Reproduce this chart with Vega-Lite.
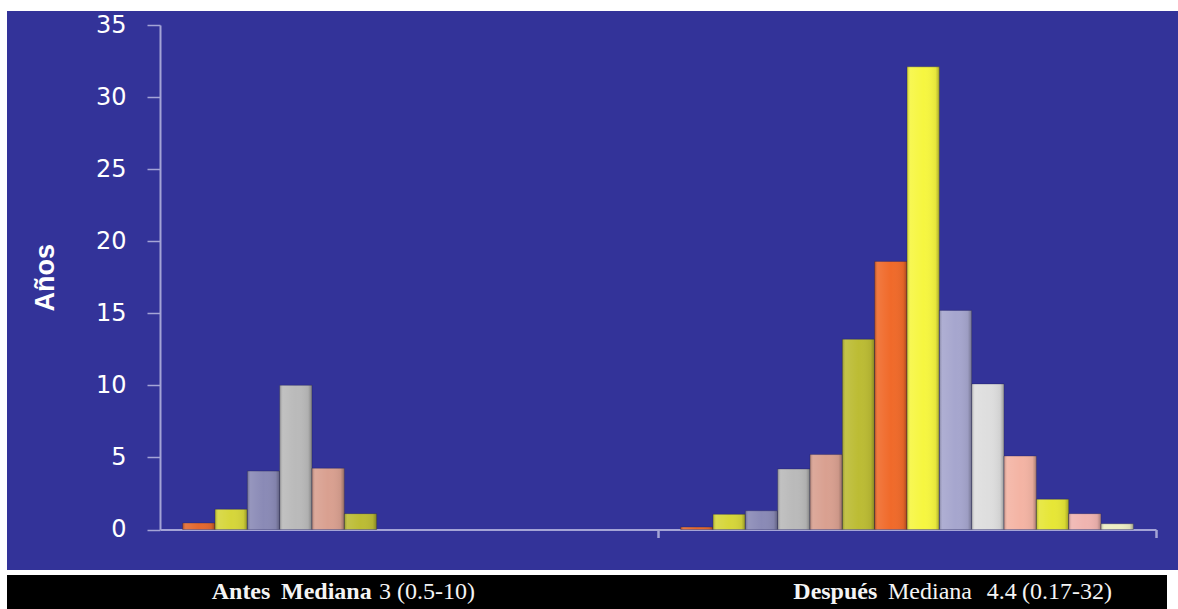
{
  "$schema": "https://vega.github.io/schema/vega-lite/v6.json",
  "background": "white",
  "padding": {"left": 7, "top": 11, "right": 0, "bottom": 0},
  "spacing": 5,
  "config": {"view": {"stroke": null}},
  "vconcat": [
    {
      "width": 1171,
      "height": 559,
      "view": {"fill": "#333399", "stroke": null},
      "data": {
        "values": [
          {"g": "Antes", "s": 1, "v": 0.45},
          {"g": "Antes", "s": 2, "v": 1.4},
          {"g": "Antes", "s": 3, "v": 4.05},
          {"g": "Antes", "s": 4, "v": 10},
          {"g": "Antes", "s": 5, "v": 4.25},
          {"g": "Antes", "s": 6, "v": 1.1},
          {"g": "Después", "s": 1, "v": 0.17},
          {"g": "Después", "s": 2, "v": 1.05},
          {"g": "Después", "s": 3, "v": 1.3},
          {"g": "Después", "s": 4, "v": 4.2},
          {"g": "Después", "s": 5, "v": 5.2},
          {"g": "Después", "s": 6, "v": 13.2},
          {"g": "Después", "s": 7, "v": 18.6},
          {"g": "Después", "s": 8, "v": 32.1},
          {"g": "Después", "s": 9, "v": 15.2},
          {"g": "Después", "s": 10, "v": 10.1},
          {"g": "Después", "s": 11, "v": 5.1},
          {"g": "Después", "s": 12, "v": 2.1},
          {"g": "Después", "s": 13, "v": 1.1},
          {"g": "Después", "s": 14, "v": 0.4}
        ]
      },
      "encoding": {
        "x": {
          "field": "g", "type": "nominal", "sort": ["Antes", "Después"],
          "scale": {"type": "band", "range": [153, 1149], "paddingInner": 0, "paddingOuter": 0},
          "axis": {
            "orient": "bottom", "offset": -40.5, "labels": false, "title": null,
            "domainColor": "#a4a4d6", "domainWidth": 2,
            "tickColor": "#a4a4d6", "tickWidth": 2.5, "tickSize": 8,
            "bandPosition": 1, "grid": false
          }
        },
        "xOffset": {
          "field": "s", "type": "ordinal",
          "scale": {"paddingInner": 0, "paddingOuter": 0.7}
        },
        "y": {
          "field": "v", "type": "quantitative",
          "scale": {"domain": [0, 35], "range": [518.5, 14], "nice": false, "zero": true},
          "axis": {
            "orient": "left", "offset": -153, "values": [0, 5, 10, 15, 20, 25, 30, 35],
            "title": "Años", "titleFont": "Liberation Sans", "titleFontSize": 27,
            "titleFontWeight": "bold", "titleColor": "white", "titlePadding": 36,
            "labelFont": "DejaVu Sans", "labelFontSize": 24, "labelColor": "white",
            "labelPadding": 21, "tickSize": 13, "tickColor": "#a4a4d6", "tickWidth": 1.5,
            "domainColor": "#a4a4d6", "domainWidth": 2, "grid": false
          }
        }
      },
      "layer": [
        {
          "mark": {"type": "bar", "stroke": "#1e1e50", "strokeOpacity": 0.35, "strokeWidth": 1},
          "encoding": {
            "color": {
              "field": "s", "type": "ordinal", "legend": null,
              "scale": {
                "domain": [1, 2, 3, 4, 5, 6, 7, 8, 9, 10, 11, 12, 13, 14],
                "range": ["#e4682e", "#d6d63a", "#8a8ab6", "#bababa", "#d9a090", "#bcbc34", "#f06a2a", "#f6f640", "#a6a6ce", "#dedede", "#f4b4a4", "#e6e636", "#f0b4b0", "#eeeec4"]
              }
            }
          }
        },
        {
          "mark": {
            "type": "bar",
            "fill": {
              "gradient": "linear", "x1": 0, "y1": 0, "x2": 1, "y2": 0,
              "stops": [
                {"offset": 0, "color": "rgba(0,0,0,0.22)"},
                {"offset": 0.1, "color": "rgba(255,255,255,0.10)"},
                {"offset": 0.5, "color": "rgba(255,255,255,0.0)"},
                {"offset": 0.88, "color": "rgba(0,0,0,0.06)"},
                {"offset": 1, "color": "rgba(0,0,0,0.3)"}
              ]
            }
          }
        }
      ]
    },
    {
      "width": 1160,
      "height": 34,
      "view": {"fill": "black", "stroke": null},
      "data": {
        "values": [
          {"g": "Antes", "t": "Antes"},
          {"g": "Antes", "t": "Mediana"},
          {"g": "Antes", "t": "3 (0.5-10)"},
          {"g": "Después", "t": "Después"},
          {"g": "Después", "t": "Mediana"},
          {"g": "Después", "t": "4.4"},
          {"g": "Después", "t": "(0.17-32)"}
        ]
      },
      "encoding": {
        "x": {
          "field": "g", "type": "nominal", "sort": ["Antes", "Después"], "bandPosition": 0,
          "scale": {"type": "band", "domain": ["Antes", "Después"], "range": [153, 1149], "paddingInner": 0, "paddingOuter": 0},
          "axis": null
        },
        "text": {"field": "t"}
      },
      "layer": [
        {
          "transform": [{"filter": "datum.g == 'Antes' && datum.t == 'Antes'"}],
          "mark": {"type": "text", "align": "left", "baseline": "middle", "dx": 51.7, "font": "Liberation Serif", "fontSize": 24, "fontWeight": "bold", "color": "#f4f4f4"}
        },
        {
          "transform": [{"filter": "datum.g == 'Antes' && datum.t == 'Mediana'"}],
          "mark": {"type": "text", "align": "left", "baseline": "middle", "dx": 121, "font": "Liberation Serif", "fontSize": 24, "fontWeight": "bold", "color": "#f4f4f4"}
        },
        {
          "transform": [{"filter": "datum.g == 'Antes' && datum.t == '3 (0.5-10)'"}],
          "mark": {"type": "text", "align": "left", "baseline": "middle", "dx": 219, "font": "Liberation Serif", "fontSize": 24, "fontWeight": "normal", "color": "#f4f4f4"}
        },
        {
          "transform": [{"filter": "datum.g == 'Después' && datum.t == 'Después'"}],
          "mark": {"type": "text", "align": "left", "baseline": "middle", "dx": 135.3, "font": "Liberation Serif", "fontSize": 24, "fontWeight": "bold", "color": "#f4f4f4"}
        },
        {
          "transform": [{"filter": "datum.g == 'Después' && datum.t == 'Mediana'"}],
          "mark": {"type": "text", "align": "left", "baseline": "middle", "dx": 230, "font": "Liberation Serif", "fontSize": 24, "fontWeight": "normal", "color": "#f4f4f4"}
        },
        {
          "transform": [{"filter": "datum.g == 'Después' && datum.t == '4.4'"}],
          "mark": {"type": "text", "align": "left", "baseline": "middle", "dx": 328.7, "font": "Liberation Serif", "fontSize": 24, "fontWeight": "normal", "color": "#f4f4f4"}
        },
        {
          "transform": [{"filter": "datum.g == 'Después' && datum.t == '(0.17-32)'"}],
          "mark": {"type": "text", "align": "left", "baseline": "middle", "dx": 364, "font": "Liberation Serif", "fontSize": 24, "fontWeight": "normal", "color": "#f4f4f4"}
        }
      ]
    }
  ],
  "resolve": {"scale": {"x": "independent", "color": "independent"}}
}
